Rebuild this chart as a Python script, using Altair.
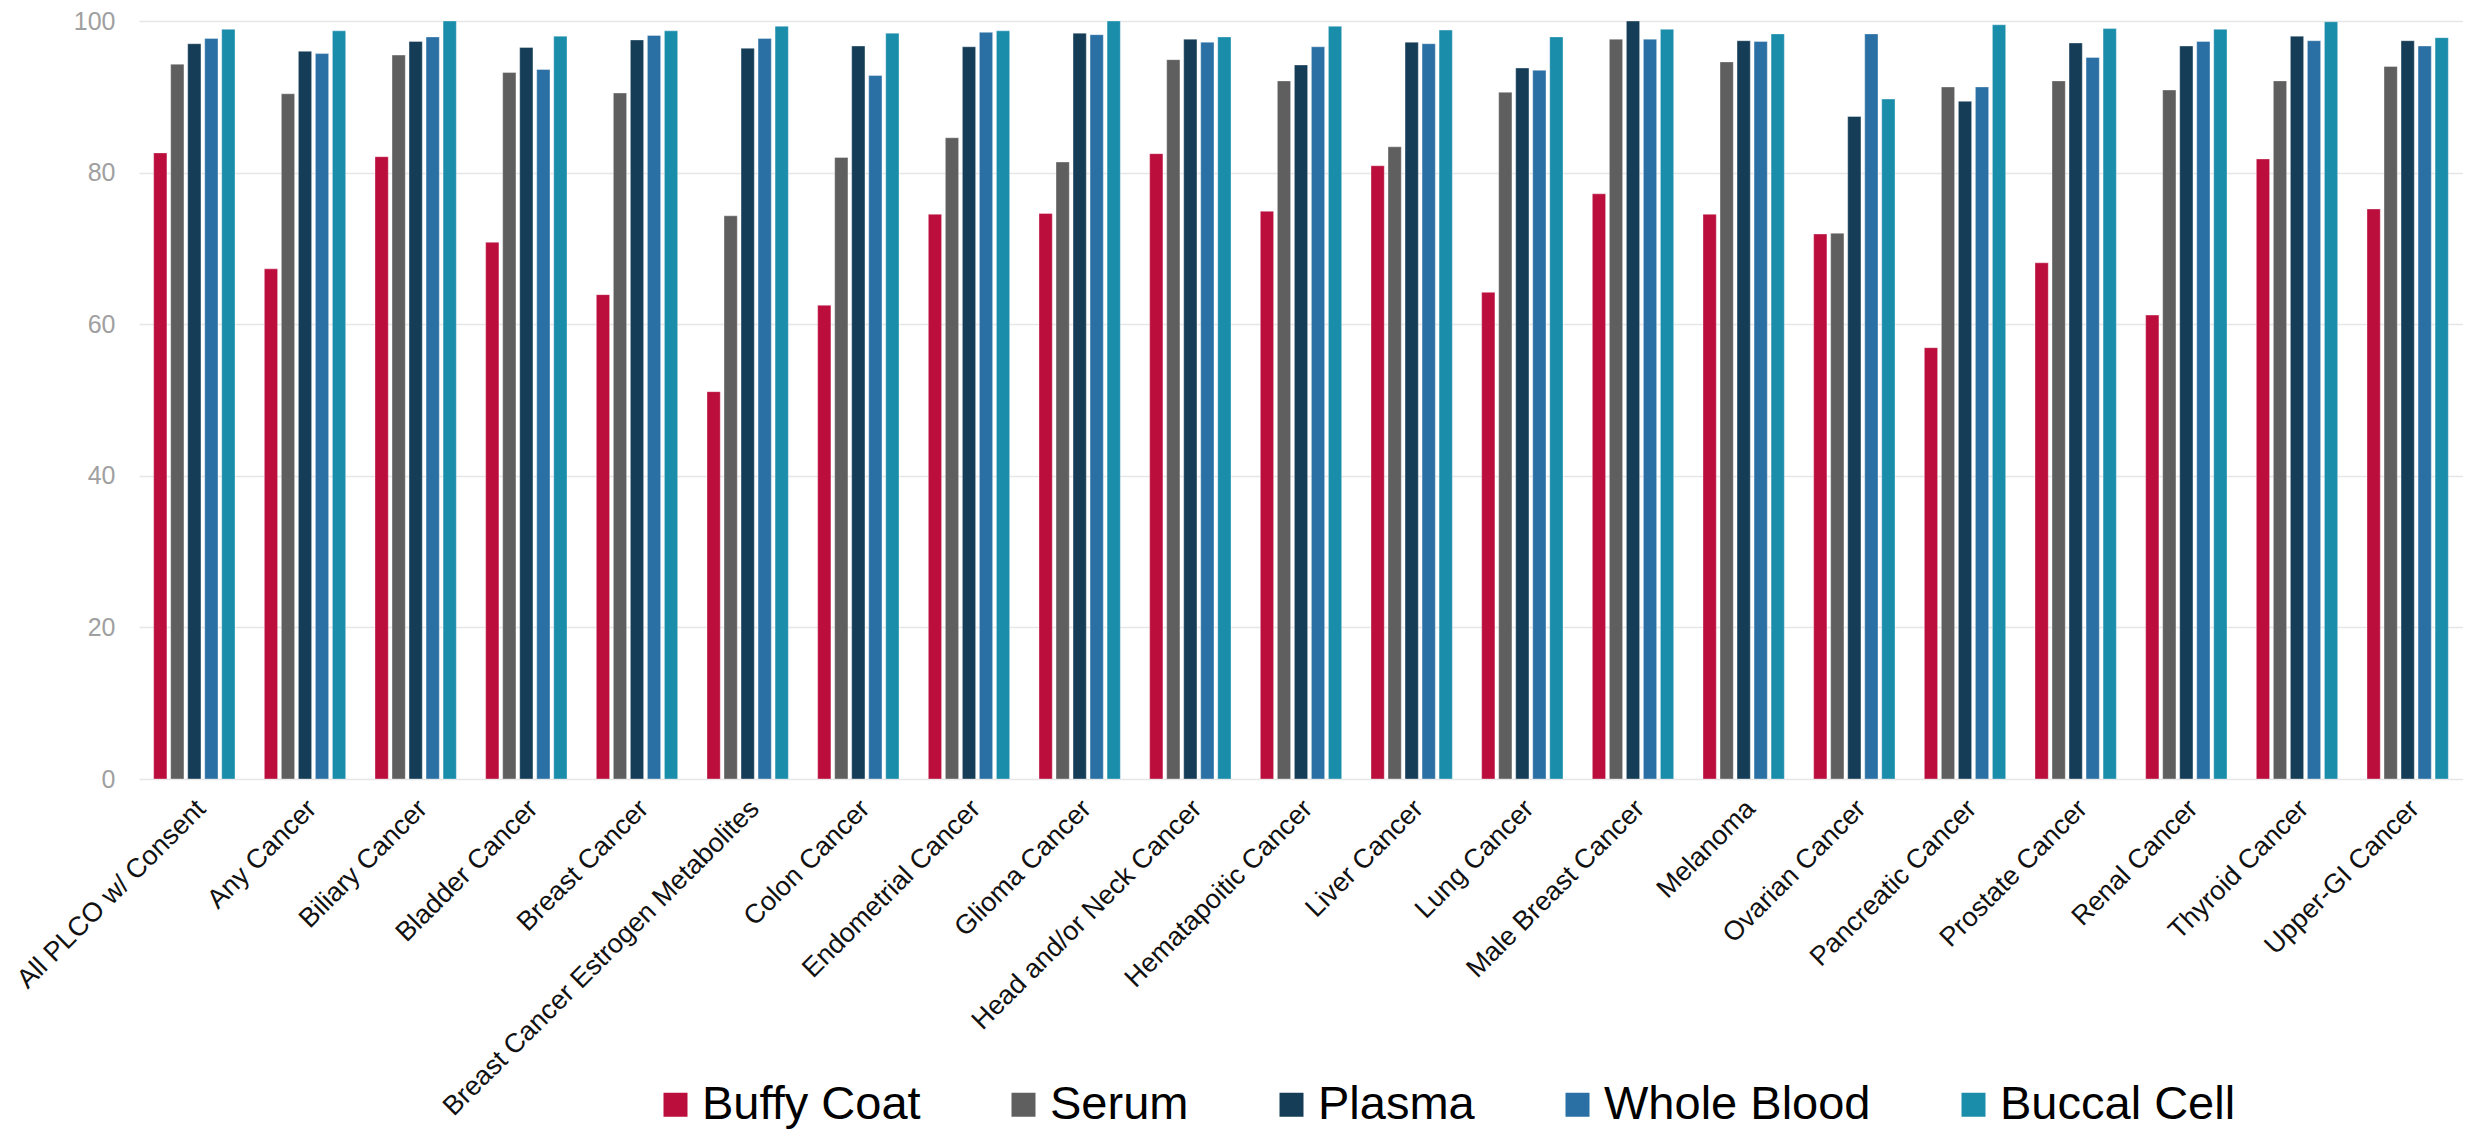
import altair as alt
import pandas as pd

categories = [
    "All PLCO w/ Consent", "Any Cancer", "Biliary Cancer", "Bladder Cancer",
    "Breast Cancer", "Breast Cancer Estrogen Metabolites", "Colon Cancer",
    "Endometrial Cancer", "Glioma Cancer", "Head and/or Neck Cancer",
    "Hematapoitic Cancer", "Liver Cancer", "Lung Cancer", "Male Breast Cancer",
    "Melanoma", "Ovarian Cancer", "Pancreatic Cancer", "Prostate Cancer",
    "Renal Cancer", "Thyroid Cancer", "Upper-GI Cancer",
]
samples = ["Buffy Coat", "Serum", "Plasma", "Whole Blood", "Buccal Cell"]
colors = ["#BB0E3D", "#5F5F5F", "#153D57", "#2A70A4", "#1A8DAB"]

buffy_coat = [82.6, 67.3, 82.1, 70.8, 63.9, 51.1, 62.5, 74.5, 74.6, 82.5, 74.9,
              80.9, 64.2, 77.2, 74.5, 71.9, 56.9, 68.1, 61.2, 81.8, 75.2]
serum = [94.3, 90.4, 95.5, 93.2, 90.5, 74.3, 82.0, 84.6, 81.4, 94.9, 92.1,
         83.4, 90.6, 97.6, 94.6, 72.0, 91.3, 92.1, 90.9, 92.1, 94.0]
plasma = [97.0, 96.0, 97.3, 96.5, 97.5, 96.4, 96.7, 96.6, 98.4, 97.6, 94.2,
          97.2, 93.8, 100.0, 97.4, 87.4, 89.4, 97.1, 96.7, 98.0, 97.4]
whole_blood = [97.7, 95.7, 97.9, 93.6, 98.1, 97.7, 92.8, 98.5, 98.2, 97.2, 96.6,
               97.0, 93.5, 97.6, 97.3, 98.3, 91.3, 95.2, 97.3, 97.4, 96.7]
buccal_cell = [98.9, 98.7, 100.0, 98.0, 98.7, 99.3, 98.4, 98.7, 100.0, 97.9, 99.3,
               98.8, 97.9, 98.9, 98.3, 89.7, 99.5, 99.0, 98.9, 99.9, 97.8]

series = [buffy_coat, serum, plasma, whole_blood, buccal_cell]
rows = []
for s_name, vals in zip(samples, series):
    for cat, v in zip(categories, vals):
        rows.append({"category": cat, "sample": s_name, "value": v})
df = pd.DataFrame(rows)

FONT = "Liberation Sans"

chart = alt.Chart(df).mark_bar(
    stroke="white", strokeWidth=0.8, strokeOpacity=0.45
).encode(
    x=alt.X(
        "category:N", sort=categories, title=None,
        scale=alt.Scale(paddingInner=0.265, paddingOuter=0.1325),
        axis=alt.Axis(
            labelAngle=-45, labelAlign="right", labelBaseline="top",
            labelPadding=16, labelOffset=-2, labelFontSize=27,
            labelColor="#111111", labelFont=FONT, ticks=False, domain=False,
            grid=False, labelLimit=0, labelOverlap=False,
        ),
    ),
    xOffset=alt.XOffset(
        "sample:N", sort=samples,
        scale=alt.Scale(paddingInner=0.22, paddingOuter=0),
    ),
    y=alt.Y(
        "value:Q", title=None,
        scale=alt.Scale(domain=[0, 100], nice=False),
        axis=alt.Axis(
            values=[0, 20, 40, 60, 80, 100], grid=True, domain=False,
            ticks=False, labelFontSize=25, labelColor="#A0A0A0",
            labelFont=FONT, labelPadding=24, gridColor="#E6E6E6",
            gridWidth=1.5,
        ),
    ),
    color=alt.Color(
        "sample:N", sort=samples,
        scale=alt.Scale(domain=samples, range=colors),
        legend=alt.Legend(
            orient="none", legendX=513, legendY=1060, direction="horizontal",
            title=None, labelFontSize=47, labelFont=FONT, labelColor="#000000",
            symbolType="square", symbolSize=576, symbolStrokeWidth=0,
            symbolOpacity=1, labelOffset=3, columnPadding=79, labelLimit=0,
        ),
    ),
).properties(
    width=2324,
    height=758,
    padding={"left": 131, "top": 13, "right": 0, "bottom": 350},
    autosize=alt.AutoSizeParams(type="none"),
).configure_view(stroke=None)

chart.save("out.html", embed_options={"renderer": "svg", "actions": False})
